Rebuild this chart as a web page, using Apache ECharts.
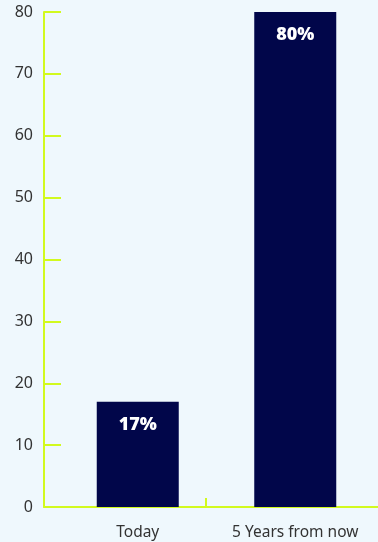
<!DOCTYPE html>
<html>
<head>
<meta charset="utf-8">
<script src="https://cdn.jsdelivr.net/npm/echarts@6/dist/echarts.min.js"></script>
<style>
html,body{margin:0;padding:0;background:#eff8fd;}
#c{width:378px;height:542px;}
</style>
</head>
<body>
<div id="c"></div>
<script>
const categories = ['Today', '5 Years from now'];
const values = [17, 80];
const yTicks = { min: 0, max: 80, interval: 10 };

const lime = '#d2fa1e';
const navy = '#01064a';
const font = '"Noto Sans", sans-serif';
const chart = echarts.init(document.getElementById('c'), null, { renderer: 'canvas' });
chart.setOption({
  backgroundColor: '#eff8fd',
  animation: false,
  grid: [
    { left: 59, right: 4, top: 12, bottom: 35 },
    { left: 44, right: 0, top: 12, bottom: 35 }
  ],
  xAxis: [
    {
      type: 'category', gridIndex: 0, data: categories,
      axisLine: { show: false }, axisTick: { show: false },
      axisLabel: { interval: 0, hideOverlap: false, color: '#333', fontSize: 15.5, fontFamily: font, margin: 18 }
    },
    {
      type: 'value', gridIndex: 1, min: 0, max: 334,
      axisLine: { show: true, lineStyle: { color: lime, width: 2 } },
      axisTick: { show: true, inside: true, length: 9, lineStyle: { color: lime, width: 2 }, customValues: [162] },
      axisLabel: { show: false }, splitLine: { show: false }
    }
  ],
  yAxis: [
    {
      type: 'value', gridIndex: 0, min: yTicks.min, max: yTicks.max, interval: yTicks.interval,
      offset: 15,
      axisLine: { show: true, lineStyle: { color: lime, width: 2 } },
      axisTick: { show: true, inside: true, length: 17, lineStyle: { color: lime, width: 2 } },
      axisLabel: { color: '#333', fontSize: 16, fontFamily: font, margin: 11 },
      splitLine: { show: false }
    },
    { type: 'value', gridIndex: 1, show: false, min: 0, max: 80 }
  ],
  series: [{
    type: 'bar', xAxisIndex: 0, yAxisIndex: 0,
    data: values, barWidth: 82,
    itemStyle: { color: navy },
    label: {
      show: true, position: 'insideTop', distance: 14,
      formatter: p => p.value + '%',
      color: '#fff', fontSize: 18, fontWeight: 900, fontFamily: font
    }
  }]
});
</script>
</body>
</html>
